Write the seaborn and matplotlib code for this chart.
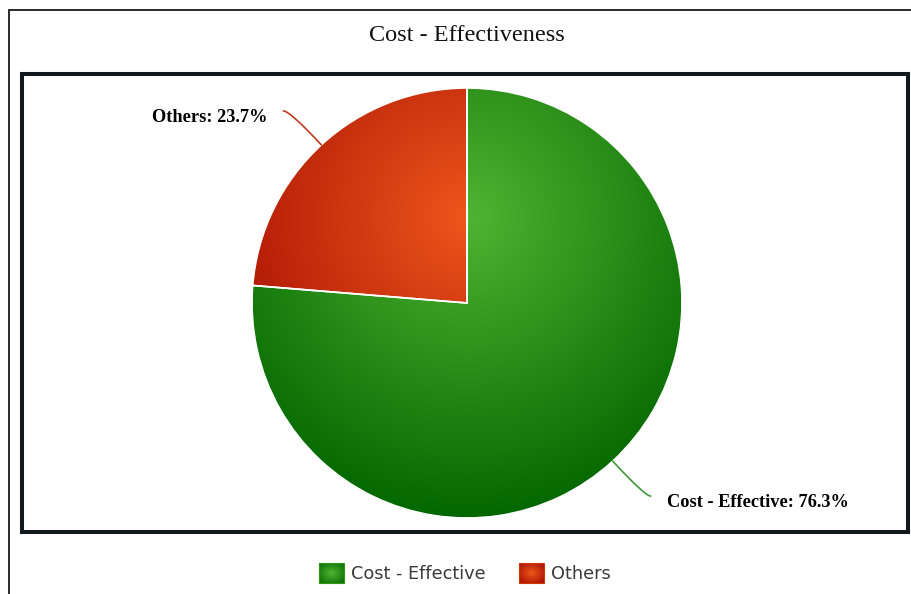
import numpy as np
import matplotlib
matplotlib.use("Agg")
import matplotlib.pyplot as plt
from matplotlib.lines import Line2D
from matplotlib.patches import Patch, Rectangle
from matplotlib.legend_handler import HandlerBase
from matplotlib.image import BboxImage
from matplotlib.transforms import Bbox, TransformedBbox
import seaborn as sns

# ---- data -------------------------------------------------------------
categories = ["Cost - Effective", "Others"]
shares = [76.3, 23.7]
base_colors = ["#50B432", "#ED561B"]

sns.set_theme(style="white")
plt.rcParams["font.family"] = ["DejaVu Sans"]

W, H = 912, 594
fig = plt.figure(figsize=(W / 100, H / 100), dpi=100)
fig.patch.set_facecolor("white")


def hex_rgb(h):
    h = h.lstrip("#")
    return np.array([int(h[i:i + 2], 16) for i in (0, 2, 4)], dtype=float) / 255.0


def darken(h, amount=0.3):
    # subtract a fixed step from every channel
    return np.clip(hex_rgb(h) - amount, 0, 1)


def radial_fill(col, t):
    c0, c1 = hex_rgb(col), darken(col)
    return c0 * (1 - t) + c1 * t


# ---- plot box (pixel coordinates, y up) -------------------------------
box_l, box_r, box_t, box_b = 22, 908, 74, 532
ax = fig.add_axes([box_l / W, (H - box_b) / H, (box_r - box_l) / W, (box_b - box_t) / H])
xlim = (box_l, box_r)
ylim = (H - box_b, H - box_t)

cx, cy, rad = 467, H - 303, 215

wedges, _ = ax.pie(
    shares,
    colors=base_colors,
    startangle=90,
    counterclock=False,
    center=(cx, cy),
    radius=rad,
    frame=True,
    wedgeprops=dict(linewidth=1.2, edgecolor="white"),
)

# radial gradient shared by the slices: centred a little above the pie centre
diam = 2 * rad
gx, gy, gr = cx, cy + 0.2 * diam, 0.7 * diam
n = 700
xs = np.linspace(cx - rad, cx + rad, n)
ys = np.linspace(cy - rad, cy + rad, n)
XX, YY = np.meshgrid(xs, ys)
t = np.clip(np.hypot(XX - gx, YY - gy) / gr, 0, 1)[..., None]

for w, col in zip(wedges, base_colors):
    im = ax.imshow(radial_fill(col, t), extent=(cx - rad, cx + rad, cy - rad, cy + rad),
                   origin="lower", aspect="auto", zorder=1, interpolation="bilinear")
    im.set_clip_path(w)
    w.set_facecolor("none")
    w.set_zorder(2)

# ---- data labels with curved connectors -------------------------------
connector_colors = ["#3f983a", "#c23a20"]
label_font = dict(family=["Liberation Serif", "DejaVu Serif"], weight="bold",
                  size=13.2, color="black")
for w, name, val, ccol in zip(wedges, categories, shares, connector_colors):
    mid = np.deg2rad((w.theta1 + w.theta2) / 2)
    ex, ey = cx + rad * np.cos(mid), cy + rad * np.sin(mid)
    side = 1 if np.cos(mid) > 0 else -1
    end_x = ex + side * 38
    end_y = ey + (34 if np.sin(mid) > 0 else -35)
    ax.annotate("", xy=(ex, ey), xytext=(end_x, end_y),
                arrowprops=dict(arrowstyle="-", color=ccol, lw=1.2,
                                shrinkA=0, shrinkB=0,
                                connectionstyle=f"angle3,angleA=0,angleB={np.rad2deg(mid):.2f}"),
                zorder=3)
    ax.text(end_x + side * 16, end_y - 11, f"{name}: {val:.1f}%",
            ha="left" if side > 0 else "right", va="baseline", zorder=4, **label_font)

ax.set_xlim(*xlim)
ax.set_ylim(*ylim)
ax.set_aspect("auto")
ax.set_xticks([])
ax.set_yticks([])
for sp in ax.spines.values():
    sp.set_visible(True)
    sp.set_linewidth(2.9)
    sp.set_color("#12191d")

# ---- title --------------------------------------------------------------
fig.text(467 / W, (H - 41) / H, "Cost - Effectiveness",
         ha="center", va="baseline", fontsize=17.5,
         family=["Liberation Serif", "DejaVu Serif"], color="#111111")

# ---- outer frame lines ------------------------------------------------
frame_kw = dict(color="#2a2a2a", lw=1.4, transform=fig.transFigure)
fig.add_artist(Line2D([9.5 / W, 9.5 / W], [0, (H - 9.5) / H], **frame_kw))
fig.add_artist(Line2D([9.5 / W, 1], [(H - 9.5) / H, (H - 9.5) / H], **frame_kw))


# ---- legend with gradient swatches ------------------------------------
class GradientSwatch(HandlerBase):
    def create_artists(self, legend, orig_handle, xdescent, ydescent,
                       width, height, fontsize, trans):
        col = orig_handle.get_gid()
        g = np.linspace(-1, 1, 60)
        GX, GY = np.meshgrid(g, g)
        tt = np.clip(np.hypot(GX, GY) / 1.25, 0, 1)[..., None]
        bbox = TransformedBbox(Bbox.from_bounds(-xdescent, -ydescent, width, height), trans)
        img = BboxImage(bbox, interpolation="bilinear")
        img.set_data(radial_fill(col, tt * 0.85))
        border = Rectangle((-xdescent, -ydescent), width, height, transform=trans,
                           facecolor="none", edgecolor=darken(col, 0.12), linewidth=0.8)
        return [img, border]


handles = []
for c, lab in zip(base_colors, categories):
    p = Patch(facecolor=c, label=lab)
    p.set_gid(c)
    handles.append(p)
fig.legend(handles=handles, loc="center", bbox_to_anchor=(465 / W, (H - 573) / H),
           ncol=2, frameon=False, fontsize=12.8, labelcolor="#3a3a3a",
           handlelength=1.4, handleheight=1.3, handletextpad=0.4,
           columnspacing=1.9, borderpad=0,
           handler_map={Patch: GradientSwatch()})

fig.savefig("out.png", dpi=100, facecolor="white")
